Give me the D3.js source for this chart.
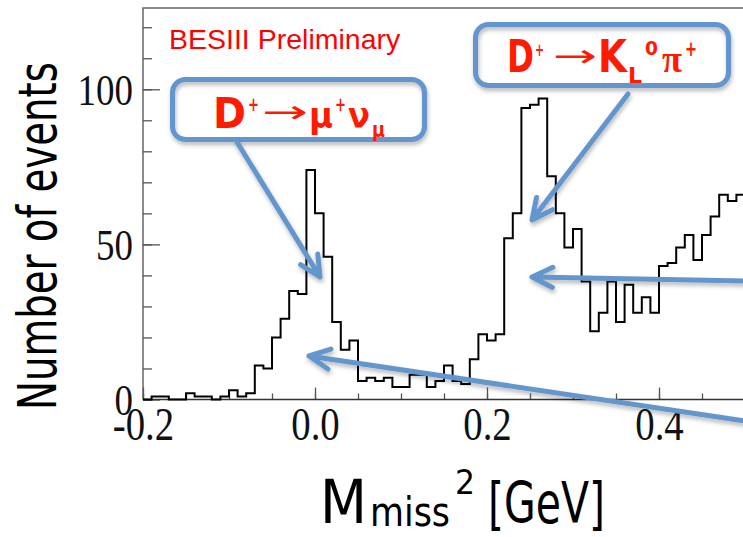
<!DOCTYPE html>
<html>
<head>
<meta charset="utf-8">
<script src="https://cdn.jsdelivr.net/npm/d3@7"></script>
<style>
  html, body { margin: 0; padding: 0; background: #fff; }
  svg { display: block; }
</style>
</head>
<body>
<svg id="chart" width="743" height="537"></svg>
<script>
// histogram of M_miss^2, bins of 0.01 starting at -0.2
const binStart = -0.2;
const binWidth = 0.01;
const counts = [
  0, 1, 1, 0, 0, 2, 1, 1, 0, 1,
  3, 1, 2, 11, 10, 20, 26, 35, 34, 74,
  60, 46, 25, 16, 19, 6, 7, 6, 7, 4,
  4, 8, 8, 4, 6, 11, 6, 5, 13, 21,
  19, 21, 52, 60, 94, 95, 97, 72, 60, 49,
  55, 38, 22, 28, 38, 25, 37, 28, 33, 28,
  43, 44, 49, 53, 45, 53, 59, 66, 64, 66,
];
const xMajorTicks = [-0.2, 0.0, 0.2, 0.4];
const xTickLabels = ['-0.2', '0.0', '0.2', '0.4'];
const yMajorTicks = [0, 50, 100];
const yTickLabels = ['0', '50', '100'];

const width = 743;
const red = '#ff1a00';
const blue = '#6496cc';
const titleFont = "'Comic Sans MS', 'DejaVu Sans', sans-serif";
const serif = "'Liberation Serif', 'Times New Roman', serif";

const svg = d3.select('#chart');

const defs = svg.append('defs');
defs.append('filter')
  .attr('id', 'shadow')
  .attr('x', '-20%').attr('y', '-20%')
  .attr('width', '140%').attr('height', '160%')
  .append('feDropShadow')
  .attr('dx', 1).attr('dy', 3)
  .attr('stdDeviation', 2)
  .attr('flood-color', '#000')
  .attr('flood-opacity', 0.28);

const x = d3.scaleLinear().domain([-0.2, 0.5]).range([143, 745]);
const y = d3.scaleLinear().domain([0, 126.2]).range([399.5, 8]);

// frame: left + top
svg.append('path')
  .attr('d', `M${x(-0.2)},${y(0)}V${y(126.2)}H${width}`)
  .attr('fill', 'none')
  .attr('stroke', '#666')
  .attr('stroke-width', 1.5);

// y ticks
const yMinor = d3.range(0, 121, 10);
svg.append('g')
  .attr('transform', `translate(${x(-0.2)},0)`)
  .call(d3.axisLeft(y).tickValues(yMinor).tickSize(-9).tickFormat(''))
  .call((g) => g.select('.domain').remove())
  .call((g) => g.selectAll('line').attr('stroke', '#555').attr('stroke-width', 1.3));

svg.append('g')
  .attr('transform', `translate(${x(-0.2)},0)`)
  .call(
    d3.axisLeft(y)
      .tickValues(yMajorTicks)
      .tickSize(-17)
      .tickPadding(10)
      .tickFormat((d, i) => yTickLabels[i])
  )
  .call((g) => g.select('.domain').remove())
  .call((g) => g.selectAll('line').attr('stroke', '#555').attr('stroke-width', 1.3))
  .call((g) =>
    g.selectAll('text')
      .attr('x', null)
      .attr('dy', null)
      .attr('transform', 'translate(-10,15) scale(1,1.22)')
      .attr('font-family', serif)
      .attr('font-size', 37)
      .attr('fill', '#111')
  );

// x ticks
const xMinor = d3.range(-4, 11).map((i) => i * 0.05);
svg.append('g')
  .attr('transform', `translate(0,${y(0)})`)
  .call(d3.axisBottom(x).tickValues(xMinor).tickSize(-6).tickFormat(''))
  .call((g) => g.select('.domain').remove())
  .call((g) => g.selectAll('line').attr('stroke', '#555').attr('stroke-width', 1.3));

svg.append('g')
  .attr('transform', `translate(0,${y(0)})`)
  .call(
    d3.axisBottom(x)
      .tickValues(xMajorTicks)
      .tickSize(-12)
      .tickFormat((d, i) => xTickLabels[i])
  )
  .call((g) => g.select('.domain').remove())
  .call((g) => g.selectAll('line').attr('stroke', '#555').attr('stroke-width', 1.3))
  .call((g) =>
    g.selectAll('text')
      .attr('y', null)
      .attr('dy', null)
      .attr('transform', 'translate(0,40) scale(1.05,1.28)')
      .attr('font-family', serif)
      .attr('font-size', 37)
      .attr('fill', '#111')
  );

// x axis line
svg.append('line')
  .attr('x1', x(-0.2)).attr('x2', width)
  .attr('y1', y(0)).attr('y2', y(0))
  .attr('stroke', '#333')
  .attr('stroke-width', 1.5);

// histogram
const steps = counts.map((c, i) => [binStart + i * binWidth, c]);
steps.push([binStart + counts.length * binWidth, counts[counts.length - 1]]);

svg.append('path')
  .datum(steps)
  .attr('fill', 'none')
  .attr('stroke', '#000')
  .attr('stroke-width', 2)
  .attr('d', d3.line().x((d) => x(d[0])).y((d) => y(d[1])).curve(d3.curveStepAfter));

// squeeze a text horizontally so it spans w pixels
const fit = (el, px, py, w) => {
  const len = el.node().getComputedTextLength();
  el.attr('transform', `translate(${px},${py}) scale(${w / len},1)`);
  return el;
};

// axis titles
const yTitle = svg.append('text')
  .attr('font-family', titleFont)
  .attr('font-size', 54)
  .attr('fill', '#000')
  .text('Number of events');
const yLen = yTitle.node().getComputedTextLength();
yTitle.attr('transform', `translate(56,410) rotate(-90) scale(${348 / yLen},1)`);

const xTitle = svg.append('g')
  .attr('font-family', titleFont)
  .attr('fill', '#000');
fit(xTitle.append('text').attr('font-size', 60).text('M'), 320, 523, 47);
fit(xTitle.append('text').attr('font-size', 40).text('miss'), 370, 526, 80);
fit(xTitle.append('text').attr('font-size', 34).text('2'), 455, 494, 20);
fit(xTitle.append('text').attr('font-size', 56).text('[GeV]'), 488, 523, 117);

// BESIII label
svg.append('text')
  .attr('x', 169).attr('y', 49)
  .attr('font-family', "'Liberation Sans', Arial, sans-serif")
  .attr('font-size', 28.5)
  .attr('fill', '#ff0000')
  .text('BESIII Preliminary');

// annotation boxes
const boxes = [
  { x: 172.5, y: 79.5, w: 252, h: 60 },
  { x: 475.5, y: 24.5, w: 253, h: 61 },
];
svg.append('g')
  .attr('filter', 'url(#shadow)')
  .selectAll('rect')
  .data(boxes)
  .join('rect')
  .attr('x', (d) => d.x).attr('y', (d) => d.y)
  .attr('width', (d) => d.w).attr('height', (d) => d.h)
  .attr('rx', 13)
  .attr('fill', 'none')
  .attr('stroke', blue)
  .attr('stroke-width', 5);

// annotation text pieces, each squeezed to the width it has in the slide
const label = svg.append('g').attr('fill', red).attr('font-weight', 'bold')
  .attr('font-family', "'DejaVu Sans', sans-serif");
const piece = (t, px, py, size, w, family) => {
  const el = label.append('text').attr('font-size', size).text(t);
  if (family) el.attr('font-family', family);
  return fit(el, px, py, w);
};
const arrowGlyph = (px, py, w) =>
  fit(label.append('text').attr('font-size', 32).attr('font-weight', 'normal').text('\u2192'), px, py, w);

// D+ -> mu+ nu_mu
piece('D', 213, 128, 43, 33);
piece('+', 248, 111, 20, 11);
arrowGlyph(262, 123, 46);
piece('\u03bc', 309, 128, 36, 24);
piece('+', 335, 111, 20, 11);
piece('\u03bd', 348, 128, 36, 22);
piece('\u03bc', 372, 137, 22, 13);

// D+ -> K_L0 pi+
piece('D', 507, 72, 44, 27);
piece('+', 535, 56, 18, 9);
arrowGlyph(553, 67, 44);
piece('K', 598, 72, 44, 29);
piece('L', 628, 83, 21, 14);
piece('0', 645, 55, 20, 13);
piece('\u03c0', 662, 72, 38, 20, serif);
piece('+', 685, 56, 22, 12);

// blue annotation arrows: [from, tip]
const arrows = [
  [[237, 142], [320, 277]],
  [[628, 94], [532, 220]],
  [[745, 281], [532, 277]],
  [[745, 421], [309, 356]],
];
const headLen = 23;
const headAng = (26 * Math.PI) / 180;
const arrowPath = ([[x0, y0], [x1, y1]]) => {
  const a = Math.atan2(y0 - y1, x0 - x1);
  const h1 = [x1 + headLen * Math.cos(a + headAng), y1 + headLen * Math.sin(a + headAng)];
  const h2 = [x1 + headLen * Math.cos(a - headAng), y1 + headLen * Math.sin(a - headAng)];
  return `M${x0},${y0}L${x1},${y1}M${h1[0]},${h1[1]}L${x1},${y1}L${h2[0]},${h2[1]}`;
};
svg.append('g')
  .attr('filter', 'url(#shadow)')
  .selectAll('path')
  .data(arrows)
  .join('path')
  .attr('d', arrowPath)
  .attr('fill', 'none')
  .attr('stroke', blue)
  .attr('stroke-width', 5)
  .attr('stroke-linecap', 'round')
  .attr('stroke-linejoin', 'round');
</script>
</body>
</html>
